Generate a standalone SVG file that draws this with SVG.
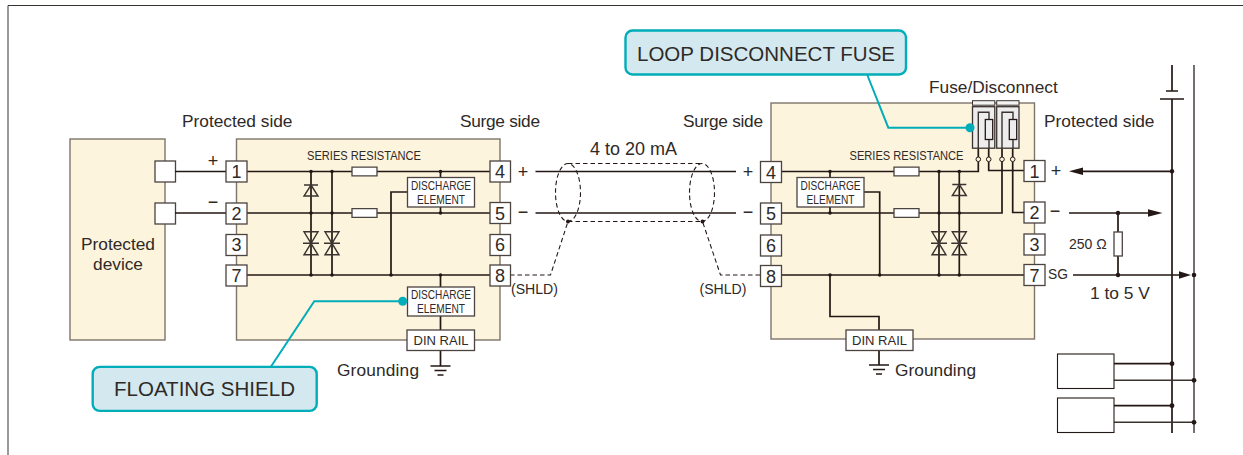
<svg xmlns="http://www.w3.org/2000/svg" xmlns:xlink="http://www.w3.org/1999/xlink" width="1243" height="455" viewBox="0 0 1243 455">
<style>
text{font-family:"Liberation Sans",Arial,sans-serif;fill:#2f2927}
.m{text-anchor:middle}
.panel{fill:#fdf4dd;stroke:#7d746c;stroke-width:1.4}
.box{fill:#fff;stroke:#4a4340;stroke-width:1.3}
.w{fill:none;stroke:#231815;stroke-width:1.7}
.g{fill:none;stroke:#3a3330;stroke-width:1.4}
.d{fill:none;stroke:#231815;stroke-width:1.1;stroke-dasharray:4.5 3}
.dot{fill:#231815}
.res{fill:#fff;stroke:#4a4340;stroke-width:1.3}
.t{font-size:17.3px}
.n{font-size:18px;text-anchor:middle}
.s{font-size:13px;text-anchor:middle}
.c{fill:#d3e9ef;stroke:#00adb9;stroke-width:2.4}
.cl{fill:none;stroke:#00adb9;stroke-width:2}
.cd{fill:#00adb9}
</style>
<defs>
<g id="zz" class="g" fill="none"><path d="M-7-11.500H7L0 0ZM-7 11.500H7L0 0ZM-8 0H8"/></g>
<g id="z1" class="g" fill="none"><path d="M-7-5.500H7M0-5.500L7 5.500H-7Z"/></g>
<g id="gnd" class="w"><path d="M-10 0H10M-6 4.500H6M-3 9H3" stroke-width="1.400"/></g>
<path id="res" class="res" d="M-12.500-4.300H12.500V4.300H-12.500Z"/>
</defs>
<path d="M8 455V5.500H1243" fill="none" stroke="#3a3330" stroke-width="1"/>
<g id="device"><rect class="panel" x="70" y="139" width="95" height="201"/>
<text class="t m" x="118" y="250">Protected</text><text class="t m" x="118" y="270">device</text>
<rect class="box" x="155" y="161" width="20.500" height="21"/><rect class="box" x="155" y="203" width="20.500" height="21"/></g>
<g id="panel-left"><rect class="panel" x="236.500" y="139" width="263.500" height="201"/></g>
<g id="panel-right"><rect class="panel" x="771" y="103" width="263.500" height="236"/></g>
<g id="connectors">
<path class="w" d="M175 171.500H226M175 213H226M247 171.500H490M247 213H490M247 275H490"/>
<path class="w" d="M311 171.500V275M332 171.500V275M440.500 171.500V177.500M440.500 207V213M440.500 275V287M440.500 316V330M440.500 350V366M407.500 192H391V275"/>
<path class="w" d="M535.500 171.500H736M535.500 213H736"/>
<path class="d" d="M510 275H550.500L568 221.500M760 275H720.500L702.500 221.500"/>
<path class="d" d="M568 163.500H702M568 221.500H702"/>
<ellipse class="d" cx="568" cy="192.500" rx="12.500" ry="29"/><ellipse class="d" cx="702" cy="192.500" rx="12.500" ry="29"/>
<path class="w" d="M781 171.500H978.300V162M781 213H1002V162M781 275H1024M988.700 162V170.500H1024M1012.700 162V212.500H1024M830 171.500V177.500M830 207V213M830 275V316.500H879V330M879 350V365M864 192H879.700V275M939 171.500V275M959.300 171.500V275"/>
<path class="w" d="M978.300 148V157M988.700 148V157M1002 148V157M1012.700 148V157"/>
<path class="w" d="M1172 65V91M1172 99V433M1166 91H1178M1160 99H1184"/>
<path class="g" d="M1194 65V433"/>
<path class="w" d="M1080 171.300H1172M1069 213H1150M1073 275H1182M1118 213V232M1118 255.500V275"/>
<path class="dot" d="M1069 171.300L1083 167.600V175L1069 171.300ZM1162.500 213L1148 209.300V216.700ZM1191 275L1179 271.300V278.700Z"/>
<path class="w" d="M1114 363.700H1172M1114 405.700H1172"/><path class="g" d="M1114 380.300H1194M1114 422.300H1194"/>
<g class="dot"><circle cx="311" cy="171.500" r="1.800"/><circle cx="332" cy="171.500" r="1.800"/><circle cx="311" cy="213" r="1.800"/><circle cx="332" cy="213" r="1.800"/><circle cx="311" cy="275" r="1.800"/><circle cx="332" cy="275" r="1.800"/><circle cx="440.500" cy="171.500" r="1.800"/><circle cx="440.500" cy="213" r="1.800"/><circle cx="440.500" cy="275" r="1.800"/><circle cx="391" cy="275" r="1.800"/><circle cx="568" cy="221.500" r="2"/><circle cx="702.500" cy="221.500" r="2"/><circle cx="830" cy="171.500" r="1.800"/><circle cx="830" cy="213" r="1.800"/><circle cx="830" cy="275" r="1.800"/><circle cx="879.700" cy="275" r="1.800"/><circle cx="939" cy="171.500" r="1.800"/><circle cx="959.300" cy="171.500" r="1.800"/><circle cx="939" cy="213" r="1.800"/><circle cx="959.300" cy="213" r="1.800"/><circle cx="939" cy="275" r="1.800"/><circle cx="959.300" cy="275" r="1.800"/><circle cx="1172" cy="171.300" r="2.200"/><circle cx="1118" cy="213" r="2.200"/><circle cx="1118" cy="275" r="2.200"/><circle cx="1194" cy="275" r="2.300"/><circle cx="1172" cy="363.700" r="2.400"/><circle cx="1194" cy="380.300" r="2.400"/><circle cx="1172" cy="405.700" r="2.400"/><circle cx="1194" cy="422.300" r="2.400"/></g>
<use xlink:href="#gnd" href="#gnd" x="440.500" y="366"/><use xlink:href="#gnd" href="#gnd" x="879" y="365"/>
</g>
<g id="components">
<use href="#z1" x="311" y="190.500"/><use href="#zz" x="311" y="243.300"/><use href="#zz" x="332" y="243.300"/>
<use href="#z1" x="959.300" y="190"/><use href="#zz" x="939" y="243.300"/><use href="#zz" x="959.300" y="243.300"/>
<use href="#res" x="364.500" y="171.500"/><use href="#res" x="364.500" y="213"/><use href="#res" x="906.500" y="171.500"/><use href="#res" x="906.500" y="213"/>
<rect class="res" x="1114" y="232" width="8.300" height="24"/>
</g>
<g id="fuse-1"><rect x="972.500" y="106.700" width="22.300" height="41.500" fill="#ededed" stroke="#3a3330" stroke-width="1.300"/><rect x="972.500" y="100.700" width="22.300" height="4.500" fill="#f3f3f3" stroke="#3a3330"/>
<path class="g" d="M978.300 148V112.300H989V119.500M989 139.500V148"/><rect x="985.300" y="119.500" width="7.400" height="20" fill="#ededed" stroke="#231815" stroke-width="1.300"/>
<circle cx="978.300" cy="159.300" r="2.300" fill="#fdf4dd" stroke="#231815"/><circle cx="988.700" cy="159.300" r="2.300" fill="#fdf4dd" stroke="#231815"/></g>
<g id="fuse-2"><rect x="996.700" y="106.700" width="22.300" height="41.500" fill="#ededed" stroke="#3a3330" stroke-width="1.300"/><rect x="996.700" y="100.700" width="22.300" height="4.500" fill="#f3f3f3" stroke="#3a3330"/>
<path class="g" d="M1002 148V112.300H1013V119.500M1013 139.500V148"/><rect x="1009.300" y="119.500" width="7.400" height="20" fill="#ededed" stroke="#231815" stroke-width="1.300"/>
<circle cx="1002" cy="159.300" r="2.300" fill="#fdf4dd" stroke="#231815"/><circle cx="1012.700" cy="159.300" r="2.300" fill="#fdf4dd" stroke="#231815"/></g>
<g id="terminals-left">
<rect class="box" x="226" y="161" width="21" height="21"/><text class="n" x="236.500" y="178">1</text>
<rect class="box" x="226" y="203" width="21" height="21"/><text class="n" x="236.500" y="220">2</text>
<rect class="box" x="226" y="234.500" width="21" height="21"/><text class="n" x="236.500" y="251">3</text>
<rect class="box" x="226" y="265" width="21" height="21"/><text class="n" x="236.500" y="282">7</text>
<rect class="box" x="490" y="161" width="20.500" height="21"/><text class="n" x="500" y="178">4</text>
<rect class="box" x="490" y="202.500" width="20.500" height="21"/><text class="n" x="500" y="219.500">5</text>
<rect class="box" x="490" y="234.500" width="20.500" height="21"/><text class="n" x="500" y="251">6</text>
<rect class="box" x="490" y="265" width="20.500" height="21"/><text class="n" x="500" y="282">8</text></g>
<g id="terminals-right">
<rect class="box" x="760.500" y="161.500" width="21" height="21"/><text class="n" x="771" y="178.500">4</text>
<rect class="box" x="760.500" y="203" width="21" height="21"/><text class="n" x="771" y="220">5</text>
<rect class="box" x="760.500" y="235" width="21" height="21"/><text class="n" x="771" y="252">6</text>
<rect class="box" x="760.500" y="265.500" width="21" height="21"/><text class="n" x="771" y="282.500">8</text>
<rect class="box" x="1024" y="160.500" width="21" height="21"/><text class="n" x="1034.500" y="177.500">1</text>
<rect class="box" x="1024" y="202" width="21" height="21"/><text class="n" x="1034.500" y="219">2</text>
<rect class="box" x="1024" y="234" width="21" height="21"/><text class="n" x="1034.500" y="251">3</text>
<rect class="box" x="1024" y="264.500" width="21" height="21"/><text class="n" x="1034.500" y="281.500">7</text></g>
<g id="discharge-1"><rect class="box" x="407.500" y="177.500" width="67" height="29.500"/><text class="s" x="441" y="190" textLength="60" lengthAdjust="spacingAndGlyphs">DISCHARGE</text><text class="s" x="441" y="204" textLength="48" lengthAdjust="spacingAndGlyphs">ELEMENT</text></g>
<g id="discharge-2"><rect class="box" x="407.500" y="287" width="67" height="29"/><text class="s" x="441" y="299" textLength="60" lengthAdjust="spacingAndGlyphs">DISCHARGE</text><text class="s" x="441" y="313" textLength="48" lengthAdjust="spacingAndGlyphs">ELEMENT</text></g>
<g id="discharge-3"><rect class="box" x="797" y="177.500" width="67" height="29.500"/><text class="s" x="830.500" y="190" textLength="60" lengthAdjust="spacingAndGlyphs">DISCHARGE</text><text class="s" x="830.500" y="204" textLength="48" lengthAdjust="spacingAndGlyphs">ELEMENT</text></g>
<g id="din-left"><rect class="box" x="407" y="330" width="67.500" height="20.500"/><text class="s" x="441" y="345" textLength="55" lengthAdjust="spacingAndGlyphs">DIN RAIL</text></g>
<g id="din-right"><rect class="box" x="846" y="330" width="67" height="20.500"/><text class="s" x="879.500" y="345" textLength="55" lengthAdjust="spacingAndGlyphs">DIN RAIL</text></g>
<g id="box-a"><rect x="1057.500" y="354" width="56.500" height="34.500" fill="#fff" stroke="#231815" stroke-width="1.100"/></g>
<g id="box-b"><rect x="1057.500" y="398" width="56.500" height="34.500" fill="#fff" stroke="#231815" stroke-width="1.100"/></g>
<g id="labels">
<text class="t" x="182" y="127">Protected side</text><text class="t" x="460" y="127" textLength="80">Surge side</text><text class="t" x="683" y="127" textLength="80">Surge side</text><text class="t" x="1044" y="127">Protected side</text>
<text class="t" x="929" y="93">Fuse/Disconnect</text><text x="590" y="155" font-size="18">4 to 20 mA</text>
<text x="307" y="160" font-size="13" textLength="114" lengthAdjust="spacingAndGlyphs">SERIES RESISTANCE</text><text x="849.500" y="160" font-size="13" textLength="114" lengthAdjust="spacingAndGlyphs">SERIES RESISTANCE</text>
<g font-size="18"><text x="213" y="167" class="m">+</text><text x="213" y="208" class="m">−</text><text x="523" y="178" class="m">+</text><text x="523" y="218" class="m">−</text><text x="748" y="178" class="m">+</text><text x="748" y="218" class="m">−</text><text x="1056" y="177" class="m">+</text><text x="1055" y="217" class="m">−</text></g>
<text x="511" y="293.500" font-size="14.100">(SHLD)</text><text x="699.500" y="293.500" font-size="14.100">(SHLD)</text>
<text x="1069" y="248.500" font-size="14">250 Ω</text><text x="1048" y="278.500" font-size="13.800">SG</text><text x="1090" y="299" font-size="17.400">1 to 5 V</text>
<text class="t" x="337" y="376" textLength="82">Grounding</text><text class="t" x="895" y="376" textLength="81">Grounding</text></g>
<g id="callout-floating"><path class="cl" d="M270.700 367L314.300 301.300H403"/><circle class="cd" cx="402.700" cy="301.300" r="4.500"/><rect class="c" x="92.700" y="366.900" width="224" height="44" rx="7"/><text x="114" y="395.500" font-size="20.500" textLength="181" lengthAdjust="spacingAndGlyphs">FLOATING SHIELD</text></g>
<g id="callout-loop"><path class="cl" d="M867.300 75L888.300 127.700H970"/><circle class="cd" cx="970" cy="127.700" r="4.500"/><rect class="c" x="625.500" y="30.500" width="280.500" height="44" rx="7"/><text x="637" y="60.500" font-size="20.500" textLength="258" lengthAdjust="spacingAndGlyphs">LOOP DISCONNECT FUSE</text></g>
</svg>
